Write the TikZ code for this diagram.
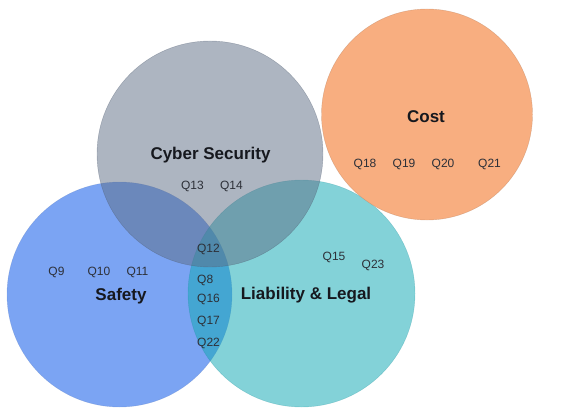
\documentclass[tikz,border=0pt]{standalone}
\usepackage{fontspec}
\setmainfont{Liberation Sans}
\definecolor{cblue}{RGB}{123,164,243}
\definecolor{cteal}{RGB}{19,169,181}
\definecolor{cgray}{RGB}{93,109,133}
\definecolor{corange}{RGB}{248,174,128}
\definecolor{qtext}{RGB}{45,48,56}
\definecolor{ttext}{RGB}{22,24,30}
\begin{document}
\begin{tikzpicture}[x=1pt,y=-1pt,
  qlab/.style={inner sep=0pt, text=qtext, font=\fontsize{12}{14}\selectfont, yshift=-1.5pt},
  title/.style={inner sep=0pt, text=ttext, font=\fontsize{17}{20}\selectfont\bfseries, yshift=-1.5pt},
  venn/.style={line width=0.5pt}]
\fill[white] (0,0) rectangle (575,409);
\useasboundingbox (0,0) rectangle (575,409);
% circles
\fill[cblue, venn] (119.5,294.5) circle[radius=112.5pt];
\draw[cblue!80!black, line width=0.4pt, draw opacity=0.4] (119.5,294.5) circle[radius=112.5pt];
\fill[cteal, fill opacity=0.52] (301.5,293.5) circle[radius=113.5pt];
\draw[cteal!80!black, line width=0.4pt, draw opacity=0.3] (301.5,293.5) circle[radius=113.5pt];
\fill[cgray, fill opacity=0.5] (210,154) circle[radius=113pt];
\draw[cgray!80!black, line width=0.4pt, draw opacity=0.4] (210,154) circle[radius=113pt];
\fill[corange] (427,114.5) circle[radius=105.5pt];
\draw[corange!75!black, line width=0.4pt, draw opacity=0.5] (427,114.5) circle[radius=105.5pt];
% titles
\node[title] (cyber) at (210.5,154) {Cyber Security};
\node[title] (cost) at (426,115) {Cost};
\node[title] (safety) at (121,295) {Safety};
\node[title] (legal) at (306,294) {Liability \& Legal};
% labels
\node[qlab] (q13) at (192.5,185) {Q13};
\node[qlab] (q14) at (231.5,185) {Q14};
\node[qlab] (q18) at (365,163) {Q18};
\node[qlab] (q19) at (404,163) {Q19};
\node[qlab] (q20) at (443,163) {Q20};
\node[qlab] (q21) at (489.5,163) {Q21};
\node[qlab] (q9) at (56.5,271) {Q9};
\node[qlab] (q10) at (99,271) {Q10};
\node[qlab] (q11) at (137.5,271) {Q11};
\node[qlab] (q12) at (208.5,248) {Q12};
\node[qlab, anchor=west] (q8) at (197,279) {Q8};
\node[qlab, anchor=west] (q16) at (197,298) {Q16};
\node[qlab, anchor=west] (q17) at (197,320) {Q17};
\node[qlab, anchor=west] (q22) at (197,342) {Q22};
\node[qlab] (q15) at (334,256) {Q15};
\node[qlab] (q23) at (373,264) {Q23};
\end{tikzpicture}
\end{document}
